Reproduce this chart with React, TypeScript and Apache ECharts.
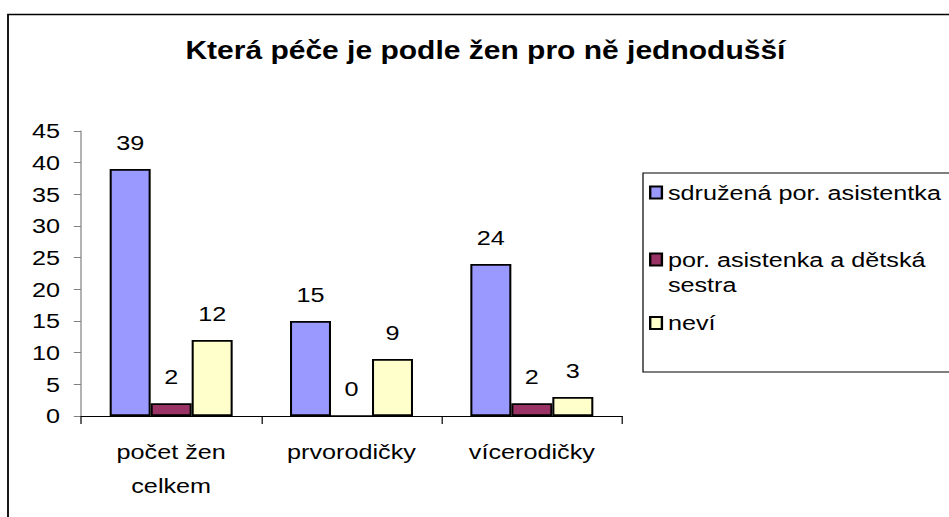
import React, { useEffect, useRef } from "react";
import * as echarts from "echarts";

const titleText = "Která péče je podle žen pro ně jednodušší";
const categories = ["počet žen\ncelkem", "prvorodičky", "vícerodičky"];
const seriesNames = ["sdružená por. asistentka", "por. asistenka a dětská sestra", "neví"];
const sdruzena = [39, 15, 24];
const porDetska = [2, 0, 2];
const nevi = [12, 9, 3];
const yTicks = { min: 0, max: 45, interval: 5 };

const S = 1.2; // horizontal stretch of the original picture
const W = 971 / S;
const FONT = 'Arial, "Liberation Sans", sans-serif';
const colors = ["#9999FF", "#993366", "#FFFFCC"];

export default function App() {
  const ref = useRef<HTMLDivElement>(null);
  useEffect(() => {
    if (!ref.current) return;
    const chart = echarts.init(ref.current, null, { renderer: "svg" });
    const values = [sdruzena, porDetska, nevi];
    const legendTops = [180, 222, 310.5];
    const option: any = {
      animation: false,
      backgroundColor: "#fff",
      title: {
        text: titleText,
        left: "center",
        top: 38,
        padding: 0,
        textStyle: { fontFamily: FONT, fontSize: 25, fontWeight: "bold", color: "#000" },
      },
      graphic: [
        {
          type: "rect",
          silent: true,
          z: -10,
          shape: { x: 8 / S, y: 14.5, width: 2000, height: 1000 },
          style: { fill: "none", stroke: "#000", lineWidth: 1.5 },
        },
        {
          type: "rect",
          silent: true,
          z: -10,
          shape: { x: 643 / S, y: 173, width: 2000, height: 199 },
          style: { fill: "none", stroke: "#000", lineWidth: 1 },
        },
      ],
      legend: seriesNames.map((n, i) => ({
        data: [n],
        left: 649 / S,
        top: legendTops[i],
        padding: 0,
        orient: "vertical",
        icon: "rect",
        itemWidth: 11.7 / S,
        itemHeight: 12,
        selectedMode: false,
        formatter: (name: string) =>
          name.indexOf(" sestra") >= 0 ? "\n" + name.replace(" sestra", "\nsestra") : name,
        textStyle: {
          fontFamily: FONT,
          fontSize: 21,
          color: "#000",
          lineHeight: 25,
        },
      })),
      grid: { left: 81 / S, width: (622 - 81) / S, top: 131, height: 285, containLabel: false },
      xAxis: {
        type: "category",
        data: categories,
        axisLine: { lineStyle: { color: "#000", width: 1 } },
        axisTick: { show: true, length: 8, lineStyle: { color: "#000" } },
        axisLabel: {
          margin: 19,
          fontFamily: FONT,
          fontSize: 21,
          color: "#000",
          lineHeight: 34,
          interval: 0,
        },
      },
      yAxis: {
        type: "value",
        min: yTicks.min,
        max: yTicks.max,
        interval: yTicks.interval,
        splitLine: { show: false },
        axisLine: { show: true, lineStyle: { color: "#808080", width: 1 } },
        axisTick: { show: true, length: 6, lineStyle: { color: "#808080" } },
        axisLabel: { margin: 17.5, fontFamily: FONT, fontSize: 21, color: "#000" },
      },
      series: seriesNames.map((n, i) => ({
        name: n,
        type: "bar",
        data: values[i],
        barWidth: 41 / S,
        barGap: "0%",
        itemStyle: { color: colors[i], borderColor: "#000", borderWidth: 1.7 },
        label: {
          show: true,
          position: "top",
          distance: 16,
          fontFamily: FONT,
          fontSize: 21,
          color: "#000",
        },
      })),
    };
    chart.setOption(option);
    return () => chart.dispose();
  }, []);

  return (
    <div
      style={{
        position: "fixed",
        left: 0,
        top: 0,
        width: 949,
        height: 517,
        overflow: "hidden",
        background: "#fff",
      }}
    >
      <div
        ref={ref}
        style={{ width: W, height: 517, transform: `scaleX(${S})`, transformOrigin: "0 0" }}
      />
    </div>
  );
}
